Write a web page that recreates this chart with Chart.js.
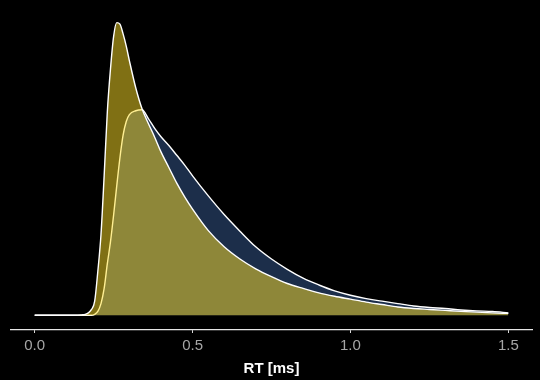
<!DOCTYPE html>
<html>
<head>
<meta charset="utf-8">
<style>
  html, body { margin: 0; padding: 0; background: #000; }
  #wrap { width: 540px; height: 380px; }
</style>
<script src="https://cdn.jsdelivr.net/npm/chart.js@4/dist/chart.umd.min.js"></script>
</head>
<body>
<div id="wrap"><canvas id="c" width="540" height="380"></canvas></div>
<script>
// Reaction time grid (x values)
const rt = [0, 0.05, 0.10, 0.125, 0.15, 0.16, 0.17, 0.18, 0.19, 0.20, 0.21, 0.22, 0.23, 0.24, 0.25, 0.26, 0.27, 0.28, 0.29, 0.30,
            0.32, 0.34, 0.36, 0.38, 0.40, 0.425, 0.45, 0.475, 0.50, 0.55, 0.60, 0.65, 0.70, 0.75, 0.80, 0.85, 0.90, 0.95,
            1.00, 1.05, 1.10, 1.15, 1.20, 1.25, 1.30, 1.35, 1.40, 1.45, 1.50];
// Tall, early-peaking density (semi-transparent yellow, drawn on top)
const densityA = [0, 0, 0, 0, 0.01, 0.02, 0.05, 0.12, 0.29, 0.90, 1.65, 2.85, 4.15, 5.03, 5.70, 5.98, 5.95, 5.75, 5.50, 5.20,
                  4.65, 4.22, 3.92, 3.64, 3.34, 3.02, 2.70, 2.42, 2.17, 1.73, 1.40, 1.15, 0.95, 0.79, 0.65, 0.55, 0.46, 0.39,
                  0.33, 0.27, 0.22, 0.17, 0.14, 0.12, 0.10, 0.08, 0.065, 0.05, 0.04];
// Later, broader density (navy, drawn underneath)
const densityB = [0, 0, 0, 0, 0, 0, 0, 0, 0.02, 0.08, 0.24, 0.55, 1.05, 1.50, 2.05, 2.65, 3.22, 3.68, 3.96, 4.10,
                  4.18, 4.20, 4.02, 3.82, 3.65, 3.47, 3.27, 3.07, 2.85, 2.44, 2.06, 1.72, 1.40, 1.15, 0.94, 0.76, 0.62, 0.50,
                  0.41, 0.34, 0.29, 0.24, 0.19, 0.16, 0.14, 0.11, 0.09, 0.08, 0.05];
const xTicks = [0, 0.5, 1.0, 1.5];
const xTitle = 'RT [ms]';

const toPts = arr => rt.map((x, i) => ({ x: x, y: arr[i] }));

const bgPlugin = {
  id: 'bg',
  beforeDraw(chart) {
    const ctx = chart.ctx;
    ctx.save();
    ctx.fillStyle = '#000';
    ctx.fillRect(0, 0, chart.width, chart.height);
    ctx.restore();
  }
};

new Chart(document.getElementById('c'), {
  type: 'line',
  data: {
    datasets: [
      {
        label: 'A',
        data: toPts(densityA),
        order: 0,
        fill: 'origin',
        backgroundColor: 'rgba(255, 224, 40, 0.5)',
        borderColor: '#ffffff',
        borderWidth: 1.4,
        pointRadius: 0,
        cubicInterpolationMode: 'monotone'
      },
      {
        label: 'B',
        data: toPts(densityB),
        order: 1,
        fill: 'origin',
        backgroundColor: '#1c2e4a',
        borderColor: '#ffffff',
        borderWidth: 1.4,
        pointRadius: 0,
        cubicInterpolationMode: 'monotone'
      }
    ]
  },
  options: {
    responsive: false,
    animation: false,
    events: [],
    layout: { padding: { left: 11, right: 8, top: 7, bottom: 0 } },
    plugins: { legend: { display: false }, tooltip: { enabled: false } },
    scales: {
      x: {
        type: 'linear',
        min: -0.075,
        max: 1.575,
        afterBuildTicks(scale) { scale.ticks = xTicks.map(v => ({ value: v })); },
        ticks: {
          color: '#a6a6a6',
          font: { family: 'Liberation Sans, Arial, sans-serif', size: 15 },
          padding: 4,
          maxRotation: 0,
          autoSkip: false,
          callback: v => Number(v).toFixed(1)
        },
        grid: { display: true, drawOnChartArea: false, drawTicks: true, tickLength: 3, color: '#d9d9d9', lineWidth: 1 },
        border: { display: true, color: '#e6e6e6', width: 1.2 },
        title: {
          display: true,
          text: xTitle,
          color: '#ffffff',
          font: { family: 'Liberation Sans, Arial, sans-serif', size: 15, weight: 'bold' },
          padding: { top: 1, bottom: 2 }
        }
      },
      y: {
        display: false,
        min: -0.3,
        max: 6.3
      }
    }
  },
  plugins: [bgPlugin]
});
</script>
</body>
</html>
